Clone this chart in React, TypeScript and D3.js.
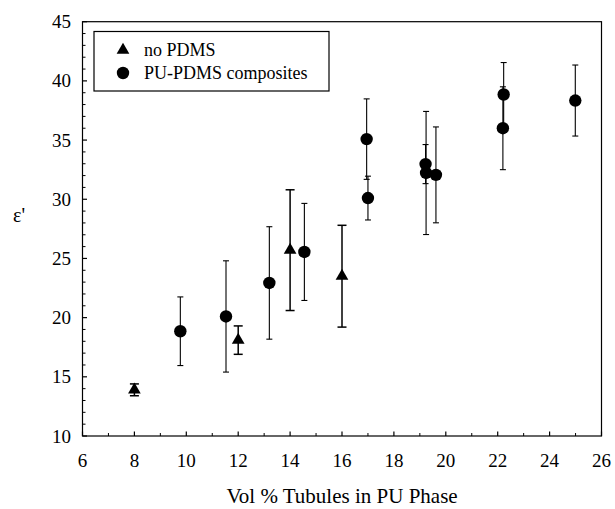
import React, { useEffect, useRef } from "react";
import * as d3 from "d3";

const triX = [8, 12, 14, 16];
const triY = [13.9, 18.1, 25.7, 23.5];
const triErr = [0.5, 1.2, 5.1, 4.3];

const cirX = [9.77, 11.53, 13.2, 14.55, 16.95, 17.0, 19.22, 19.24, 19.62, 22.23, 22.2, 24.99];
const cirY = [18.85, 20.1, 22.93, 25.55, 35.08, 30.1, 32.97, 32.22, 32.06, 38.85, 36.0, 38.34];
const cirErr = [2.9, 4.7, 4.75, 4.1, 3.4, 1.85, 1.65, 5.2, 4.05, 2.7, 3.5, 3.0];

const xTicks = [6, 8, 10, 12, 14, 16, 18, 20, 22, 24, 26];
const yTicks = [10, 15, 20, 25, 30, 35, 40, 45];
const legendLabels = ["no PDMS", "PU-PDMS composites"];
const xTitle = "Vol % Tubules in PU Phase";
const yTitle = "ε'";

const W = 615, H = 509;
const L = 82.5, R = 601.5, T = 21.7, B = 436;
const FONT = "Liberation Serif";

export default function App() {
  const ref = useRef<SVGSVGElement>(null);

  useEffect(() => {
    const svg = d3.select(ref.current);
    svg.selectAll("*").remove();
    const x = d3.scaleLinear().domain([6, 26]).range([L, R]);
    const y = d3.scaleLinear().domain([10, 45]).range([B, T]);
    const tri = d3.symbol().type(d3.symbolTriangle).size(70)()!;

    svg.append("rect").attr("x", L).attr("y", T).attr("width", R - L).attr("height", B - T)
      .attr("fill", "none").attr("stroke", "#000").attr("stroke-width", 1.2);

    const txt = (xx: number, yy: number, s: string, size: number, anchor: string) =>
      svg.append("text").attr("x", xx).attr("y", yy).attr("font-size", size)
        .attr("text-anchor", anchor).attr("font-family", FONT)
        .style("font-family", `"${FONT}"`).text(s);

    xTicks.forEach((v) => {
      svg.append("line").attr("x1", x(v)).attr("x2", x(v)).attr("y1", B).attr("y2", B - 4.5)
        .attr("stroke", "#000").attr("stroke-width", 1.2);
      txt(x(v), 467, String(v), 19, "middle");
    });
    d3.range(7, 26, 2).forEach((v) => {
      svg.append("line").attr("x1", x(v)).attr("x2", x(v)).attr("y1", B).attr("y2", B - 3)
        .attr("stroke", "#000").attr("stroke-width", 1);
    });
    yTicks.forEach((v) => {
      svg.append("line").attr("x1", L).attr("x2", L + 4.5).attr("y1", y(v)).attr("y2", y(v))
        .attr("stroke", "#000").attr("stroke-width", 1.2);
      txt(71, y(v) + 6.5, String(v), 19, "end");
    });
    d3.range(11, 45).filter((v) => v % 5 !== 0).forEach((v) => {
      svg.append("line").attr("x1", L).attr("x2", L + 3).attr("y1", y(v)).attr("y2", y(v))
        .attr("stroke", "#000").attr("stroke-width", 1);
    });
    txt(342, 503, xTitle, 21, "middle");
    txt(19, 222, yTitle, 20, "middle");

    const bar = (cx: number, v: number, e: number, hw: number, sw: number) => {
      const g = svg.append("g").attr("stroke", "#000").attr("stroke-width", sw);
      g.append("line").attr("x1", x(cx)).attr("x2", x(cx)).attr("y1", y(v + e)).attr("y2", y(v - e));
      g.append("line").attr("x1", x(cx) - hw).attr("x2", x(cx) + hw).attr("y1", y(v + e)).attr("y2", y(v + e));
      g.append("line").attr("x1", x(cx) - hw).attr("x2", x(cx) + hw).attr("y1", y(v - e)).attr("y2", y(v - e));
    };
    cirX.forEach((v, i) => bar(v, cirY[i], cirErr[i], 3, 1.1));
    triX.forEach((v, i) => bar(v, triY[i], triErr[i], 4.5, 1.5));
    cirX.forEach((v, i) => {
      svg.append("circle").attr("cx", x(v)).attr("cy", y(cirY[i])).attr("r", 6.2).attr("fill", "#000");
    });
    triX.forEach((v, i) => {
      svg.append("path").attr("d", tri).attr("transform", `translate(${x(v)},${y(triY[i])})`).attr("fill", "#000");
    });

    svg.append("rect").attr("x", 94).attr("y", 31.5).attr("width", 235).attr("height", 59.5)
      .attr("fill", "#fff").attr("stroke", "#000").attr("stroke-width", 1.2);
    svg.append("path").attr("d", tri).attr("transform", "translate(123,50)").attr("fill", "#000");
    svg.append("circle").attr("cx", 123).attr("cy", 73).attr("r", 6.2).attr("fill", "#000");
    txt(144, 56, legendLabels[0], 18, "start");
    txt(144, 79, legendLabels[1], 18, "start");
  }, []);

  return (
    <svg ref={ref} width={W} height={H} style={{ position: "absolute", left: 0, top: 0 }} />
  );
}
